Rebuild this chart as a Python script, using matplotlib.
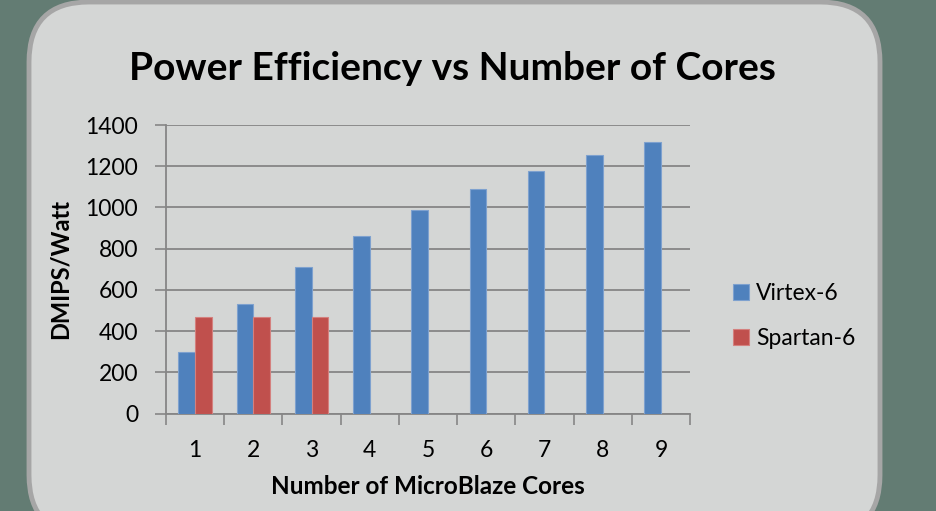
import numpy as np
import matplotlib
matplotlib.use("Agg")
from matplotlib import pyplot as plt
from matplotlib.patches import FancyBboxPatch

cores = [1, 2, 3, 4, 5, 6, 7, 8, 9]
virtex = [298, 530, 712, 860, 986, 1088, 1175, 1253, 1317]
spartan = [467, 467, 467]
series_names = ["Virtex-6", "Spartan-6"]

plt.rcParams['font.family'] = ['Lato', 'DejaVu Sans']

fig = plt.figure(figsize=(9.36, 5.11), dpi=100)
fig.patch.set_facecolor('#637c73')

# rounded panel behind the chart, drawn in pixel coords
bg = fig.add_axes([0, 0, 1, 1])
bg.set_xlim(0, 936)
bg.set_ylim(511, 0)
bg.axis('off')
panel = FancyBboxPatch((29, 2), 851, 533, boxstyle="round,pad=0,rounding_size=60",
                       facecolor='#d4d6d5', edgecolor='#a6a6a6', linewidth=3.5)
bg.add_patch(panel)

ax = fig.add_axes([166 / 936, 1 - 413.5 / 511, (690 - 166) / 936, (413.5 - 125) / 511])
ax.set_facecolor('none')

x = np.arange(len(cores)) + 1
w = 1 / 3.5
ax.bar(x - w / 2, virtex, w, color='#4f81bd', edgecolor='#7ea1cf', linewidth=0.8,
       label=series_names[0], zorder=3)
ax.bar(x[:len(spartan)] + w / 2, spartan, w, color='#c0504d', edgecolor='#d4807e',
       linewidth=0.8, label=series_names[1], zorder=3)

ax.set_xlim(0.5, 9.5)
ax.set_ylim(0, 1400)
ax.set_yticks(range(0, 1401, 200))
ax.set_xticks(x)
ax.set_xticklabels([str(c) for c in cores])
ax.set_xticks(np.arange(0.5, 9.6, 1), minor=True)
ax.tick_params(axis='x', which='major', length=0, pad=19, labelsize=16.5)
ax.tick_params(axis='x', which='minor', length=8, width=1.2, color='#868686')
ax.tick_params(axis='y', length=8, width=1.2, color='#868686', pad=12, labelsize=16.5)
ax.yaxis.grid(True, color='#868686', linewidth=1.3, zorder=0)
for s in ['top', 'right']:
    ax.spines[s].set_visible(False)
for s in ['left', 'bottom']:
    ax.spines[s].set_color('#868686')
    ax.spines[s].set_linewidth(1.3)

ax.set_xlabel('Number of MicroBlaze Cores', fontsize=17.5, fontweight='bold', labelpad=10)
ax.set_ylabel('DMIPS/Watt', fontsize=17, fontweight='bold', labelpad=10)

fig.text(452 / 936, 1 - 68 / 511, 'Power Efficiency vs Number of Cores', fontsize=28,
         fontweight='bold', ha='center', va='center')

fig.legend(loc='center left', bbox_to_anchor=(733 / 936, 1 - 316 / 511), frameon=False,
           fontsize=16.5, handlelength=0.7, handleheight=0.7, handletextpad=0.3,
           labelspacing=1.05, borderpad=0, borderaxespad=0)

fig.savefig('out.png', dpi=100, facecolor=fig.get_facecolor())
